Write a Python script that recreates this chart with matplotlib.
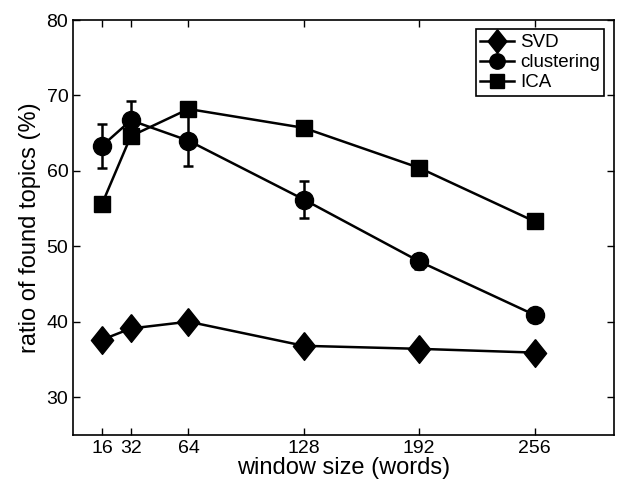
import matplotlib
matplotlib.use("Agg")
import matplotlib.pyplot as plt

plt.rcParams['font.family'] = ['Liberation Sans', 'DejaVu Sans']

# window sizes
window = [16, 32, 64, 128, 192, 256]

# ratio of found topics (%)
svd = [37.6, 39.1, 40.0, 36.8, 36.4, 35.9]
clustering = [63.3, 66.7, 64.0, 56.2, 48.0, 40.9]
clustering_err = [2.9, 2.5, 3.4, 2.5, 1.0, 0.5]
ica = [55.6, 64.6, 68.2, 65.7, 60.4, 53.3]

# tall diamond, matlab style
diamond = [(0, 1), (0.8, 0), (0, -1), (-0.8, 0), (0, 1)]

fig = plt.figure(figsize=(6.2, 4.88), dpi=100)
ax = fig.add_axes([0.118, 0.109, 0.872, 0.850])

ax.errorbar(window, clustering, yerr=clustering_err, fmt='none', ecolor='black',
            capsize=3.5, elinewidth=1.8, capthick=1.8)
ax.plot(window, svd, color='black', lw=1.8, marker=diamond, markersize=20, label='SVD')
ax.plot(window, clustering, color='black', lw=1.8, marker='o', markersize=13,
        label='clustering')
ax.plot(window, ica, color='black', lw=1.8, marker='s', markersize=12, label='ICA')

ax.set_xlim(0, 300)
ax.set_ylim(25, 80)
ax.set_xticks(window)
ax.set_yticks([30, 40, 50, 60, 70, 80])
ax.tick_params(direction='in', top=True, right=True, labelsize=14, length=5, width=1)
for s in ax.spines.values():
    s.set_linewidth(1.2)

ax.set_xlabel('window size (words)', fontsize=17, labelpad=0)
ax.set_ylabel('ratio of found topics (%)', fontsize=17, labelpad=4)

leg = ax.legend(loc='upper right', fontsize=13.5, fancybox=False, edgecolor='black',
                framealpha=1, handlelength=1.8, handletextpad=0.3, labelspacing=0.15,
                borderpad=0.25, borderaxespad=0.5, markerscale=0.85)
leg.get_frame().set_linewidth(1.2)

fig.savefig('out.png', dpi=100)
